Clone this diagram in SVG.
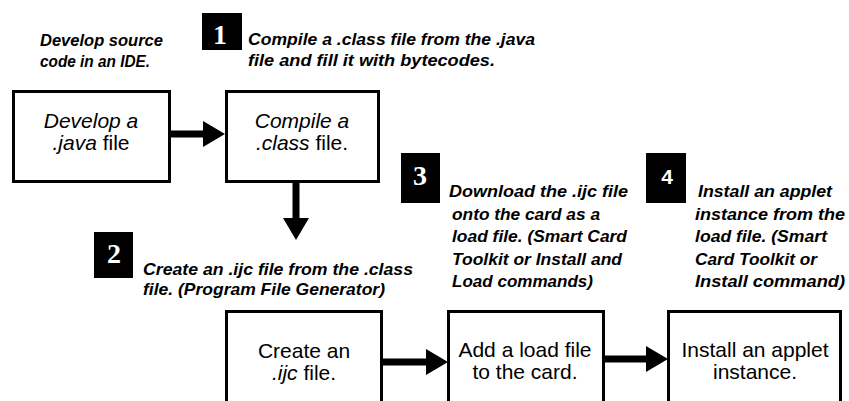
<svg xmlns="http://www.w3.org/2000/svg" width="849" height="401" viewBox="0 0 849 401">
<style>
.note{font-family:"Liberation Sans",Arial,sans-serif;font-size:17px;font-weight:bold;font-style:italic;fill:#000}
.box{fill:#fff;stroke:#000;stroke-width:3}
.lbl{font-family:"Liberation Sans",Arial,sans-serif;font-size:21px;fill:#000;text-anchor:middle}
.it{font-style:italic}
.badge{fill:#000}
.num{font-family:"Liberation Serif","Times New Roman",serif;font-size:28px;font-weight:bold;fill:#fff;text-anchor:middle}
.num4{font-family:"Liberation Sans",Arial,sans-serif;font-size:21px;font-weight:bold;fill:#fff;text-anchor:middle}
.shaft{stroke:#000;stroke-width:7;fill:none}
</style>
<defs>
<marker id="head" viewBox="0 0 22 26" refX="0" refY="13" markerWidth="22" markerHeight="26" markerUnits="userSpaceOnUse" orient="auto">
<path d="M0,0 L22,13 L0,26 Z" fill="#000"/>
</marker>
</defs>
<rect width="849" height="401" fill="#fff"/>

<g id="note-ide">
<text class="note" x="40" y="46" textLength="123" lengthAdjust="spacingAndGlyphs">Develop source</text>
<text class="note" x="40" y="67" textLength="110" lengthAdjust="spacingAndGlyphs">code in an IDE.</text>
</g>

<g id="step1">
<rect class="badge" x="202" y="13" width="40" height="37"/>
<text class="num" x="220" y="44">1</text>
<text class="note" x="248" y="45" textLength="287" lengthAdjust="spacingAndGlyphs">Compile a .class file from the .java</text>
<text class="note" x="248" y="66" textLength="247" lengthAdjust="spacingAndGlyphs">file and fill it with bytecodes.</text>
</g>

<g id="step2">
<rect class="badge" x="94" y="232" width="39" height="46"/>
<text class="num" x="114" y="263">2</text>
<text class="note" x="143" y="275" textLength="270" lengthAdjust="spacingAndGlyphs">Create an .ijc file from the .class</text>
<text class="note" x="143" y="295" textLength="242" lengthAdjust="spacingAndGlyphs">file. (Program File Generator)</text>
</g>

<g id="step3">
<rect class="badge" x="401" y="153" width="39" height="50"/>
<text class="num" x="420" y="185">3</text>
<text class="note" x="449" y="197" textLength="179" lengthAdjust="spacingAndGlyphs">Download the .ijc file</text>
<text class="note" x="452" y="220" textLength="148" lengthAdjust="spacingAndGlyphs">onto the card as a</text>
<text class="note" x="452" y="242" textLength="175" lengthAdjust="spacingAndGlyphs">load file. (Smart Card</text>
<text class="note" x="452" y="265" textLength="170" lengthAdjust="spacingAndGlyphs">Toolkit or Install and</text>
<text class="note" x="452" y="287" textLength="141" lengthAdjust="spacingAndGlyphs">Load commands)</text>
</g>

<g id="step4">
<rect class="badge" x="646" y="153" width="40" height="50"/>
<text class="num4" x="667" y="184">4</text>
<text class="note" x="698" y="197" textLength="134" lengthAdjust="spacingAndGlyphs">Install an applet</text>
<text class="note" x="695" y="220" textLength="150" lengthAdjust="spacingAndGlyphs">instance from the</text>
<text class="note" x="695" y="242" textLength="132" lengthAdjust="spacingAndGlyphs">load file. (Smart</text>
<text class="note" x="695" y="265" textLength="122" lengthAdjust="spacingAndGlyphs">Card Toolkit or</text>
<text class="note" x="695" y="287" textLength="150" lengthAdjust="spacingAndGlyphs">Install command)</text>
</g>

<g id="node-develop">
<rect class="box" x="13.5" y="91.5" width="156" height="90"/>
<text class="lbl it" x="91" y="128">Develop a</text>
<text class="lbl" x="91" y="150"><tspan class="it">.java</tspan> file</text>
</g>

<g id="node-compile">
<rect class="box" x="226.5" y="91.5" width="152" height="90"/>
<text class="lbl it" x="302" y="128">Compile a</text>
<text class="lbl" x="302" y="150"><tspan class="it">.class</tspan> file.</text>
</g>

<g id="node-create">
<rect class="box" x="226.5" y="311.5" width="155" height="110"/>
<text class="lbl" x="304" y="358">Create an</text>
<text class="lbl" x="304" y="380"><tspan class="it">.ijc</tspan> file.</text>
</g>

<g id="node-load">
<rect class="box" x="448.5" y="311.5" width="155" height="110"/>
<text class="lbl" x="525" y="357">Add a load file</text>
<text class="lbl" x="525" y="379">to the card.</text>
</g>

<g id="node-install">
<rect class="box" x="668.5" y="311.5" width="172" height="110"/>
<text class="lbl" x="755" y="357">Install an applet</text>
<text class="lbl" x="755" y="379">instance.</text>
</g>

<g id="connectors">
<line class="shaft" x1="171" y1="134" x2="203" y2="134" marker-end="url(#head)"/>
<line class="shaft" x1="296" y1="183" x2="296" y2="218" stroke-width="6" marker-end="url(#head)"/>
<line class="shaft" x1="383" y1="362" x2="426" y2="362" marker-end="url(#head)"/>
<line class="shaft" x1="605" y1="359" x2="646" y2="359" marker-end="url(#head)"/>
</g>
</svg>
